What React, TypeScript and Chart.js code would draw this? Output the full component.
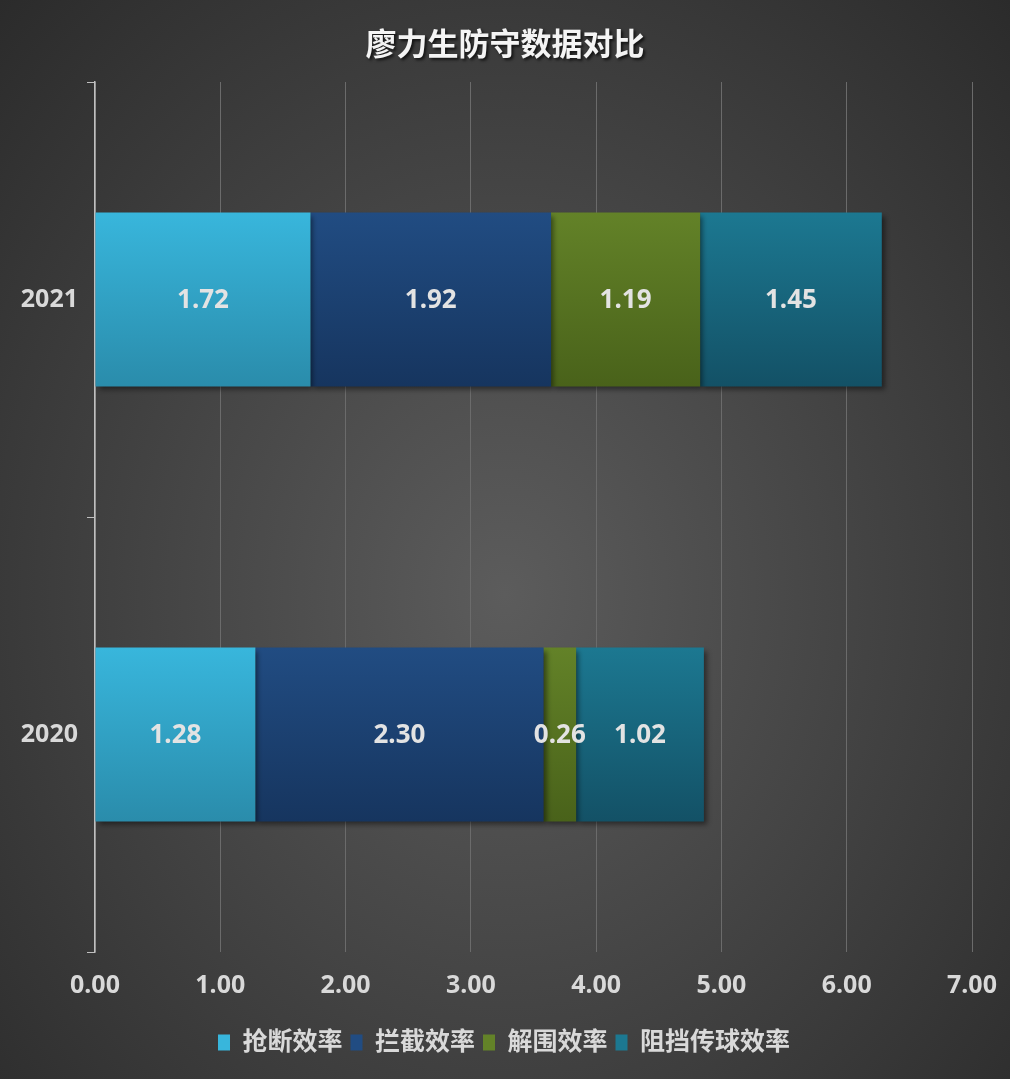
import { useEffect, useRef } from "react";
import { Chart, registerables } from "chart.js";

Chart.register(...registerables);

// 数据
const years = ["2021", "2020"];
const steals = [1.72, 1.28];
const interceptions = [1.92, 2.3];
const clearances = [1.19, 0.26];
const blockedPasses = [1.45, 1.02];
const seriesNames = ["抢断效率", "拦截效率", "解围效率", "阻挡传球效率"];
const xTicks = [0, 1, 2, 3, 4, 5, 6, 7];

const FONT = '"Noto Sans", "Noto Sans CJK SC", sans-serif';

// [top, bottom] colours of each series gradient
const palette: [string, string][] = [
  ["#38b6dc", "#2a8cab"],
  ["#214c82", "#16355f"],
  ["#638228", "#49621a"],
  ["#1c7891", "#135166"],
];

function gradientFill(i: number) {
  return (ctx: any) => {
    const [top, bottom] = palette[i];
    if (ctx.type !== "data") return top;
    const chart = ctx.chart;
    const y = chart.scales.y;
    if (!y || !chart.chartArea) return top;
    const center = y.getPixelForValue(ctx.dataIndex);
    const half = ((y.bottom - y.top) / years.length) * 0.2;
    const g = chart.ctx.createLinearGradient(0, center - half, 0, center + half);
    g.addColorStop(0, top);
    g.addColorStop(1, bottom);
    return g;
  };
}

// 柱子阴影
const barShadow = {
  id: "barShadow",
  beforeDatasetsDraw(chart: any) {
    const c = chart.ctx;
    c.save();
    c.shadowColor = "rgba(0,0,0,0.45)";
    c.shadowBlur = 5;
    c.shadowOffsetX = 3;
    c.shadowOffsetY = 3;
  },
  afterDatasetsDraw(chart: any) {
    chart.ctx.restore();
  },
};

// 数据标签
const barLabels = {
  id: "barLabels",
  afterDatasetsDraw(chart: any) {
    const c = chart.ctx;
    c.save();
    c.font = `bold 26px ${FONT}`;
    c.fillStyle = "#e3e3e3";
    c.textAlign = "center";
    c.textBaseline = "middle";
    chart.data.datasets.forEach((ds: any, di: number) => {
      chart.getDatasetMeta(di).data.forEach((el: any, i: number) => {
        c.fillText(Number(ds.data[i]).toFixed(2), (el.x + el.base) / 2, el.y + 1);
      });
    });
    c.restore();
  },
};

// 标题（带阴影）
const shadowTitle = {
  id: "shadowTitle",
  afterDraw(chart: any) {
    const c = chart.ctx;
    c.save();
    c.font = `bold 31px ${FONT}`;
    c.textAlign = "center";
    c.textBaseline = "middle";
    c.shadowColor = "rgba(0,0,0,0.7)";
    c.shadowBlur = 3;
    c.shadowOffsetX = 2;
    c.shadowOffsetY = 2;
    c.fillStyle = "#f4f4f4";
    c.fillText("廖力生防守数据对比", chart.width / 2, 46);
    c.restore();
  },
};

// 图例整体右移，居中于画布
const legendShift = {
  id: "legendShift",
  afterLayout(chart: any) {
    const l = chart.legend;
    if (!l) return;
    l.left += 18;
    l.right += 18;
  },
};

export default function App() {
  const chartRef = useRef<HTMLCanvasElement | null>(null);

  useEffect(() => {
    if (!chartRef.current) return;
    const ctx = chartRef.current.getContext("2d");
    if (!ctx) return;

    const values = [steals, interceptions, clearances, blockedPasses];

    const chart = new Chart(ctx, {
      type: "bar",
      data: {
        labels: years,
        datasets: values.map((data, i) => ({
          label: seriesNames[i],
          data,
          backgroundColor: gradientFill(i),
          borderWidth: 0,
          categoryPercentage: 1,
          barPercentage: 0.4,
        })),
      },
      options: {
        indexAxis: "y",
        animation: false,
        responsive: false,
        maintainAspectRatio: false,
        layout: { padding: { top: 82, right: 38, bottom: 14, left: 0 } },
        plugins: {
          title: { display: false },
          tooltip: { enabled: false },
          legend: {
            position: "bottom",
            labels: {
              color: "#d9d9d9",
              font: { family: FONT, size: 25, weight: "bold" },
              boxWidth: 12,
              boxHeight: 16,
              padding: 8,
              generateLabels: () =>
                seriesNames.map((name, i) => ({
                  text: name,
                  fillStyle: palette[i][0],
                  strokeStyle: palette[i][0],
                  lineWidth: 0,
                  fontColor: "#d9d9d9",
                  datasetIndex: i,
                  hidden: false,
                })),
            },
          },
        },
        scales: {
          x: {
            stacked: true,
            min: 0,
            max: 7,
            afterBuildTicks: (scale: any) => {
              scale.ticks = xTicks.map((v) => ({ value: v }));
            },
            afterFit: (scale: any) => {
              scale.height = 70;
              scale.paddingLeft = 0;
              scale.paddingRight = 0;
            },
            grid: { color: "#6b6b6b", lineWidth: 1, drawTicks: false },
            border: { display: false },
            ticks: {
              color: "#d9d9d9",
              padding: 19,
              font: { family: FONT, size: 25, weight: "bold" },
              callback: (v: any) => Number(v).toFixed(2),
            },
          },
          y: {
            stacked: true,
            afterFit: (scale: any) => {
              scale.width = 95;
            },
            grid: {
              drawOnChartArea: false,
              drawTicks: true,
              tickLength: 8,
              color: "#bfbfbf",
              offset: true,
            },
            border: { display: true, color: "#bfbfbf", width: 1.5 },
            ticks: {
              color: "#d9d9d9",
              padding: 9,
              font: { family: FONT, size: 25, weight: "bold" },
            },
          },
        },
      },
      plugins: [barShadow, barLabels, shadowTitle, legendShift],
    });

    return () => chart.destroy();
  }, []);

  return (
    <div
      style={{
        position: "fixed",
        left: 0,
        top: 0,
        width: 1010,
        height: 1079,
        background: "radial-gradient(ellipse at 50% 55%, #5c5c5c 0%, #464646 45%, #2b2b2b 100%)",
      }}
    >
      <canvas ref={chartRef} width={1010} height={1079}></canvas>
    </div>
  );
}
